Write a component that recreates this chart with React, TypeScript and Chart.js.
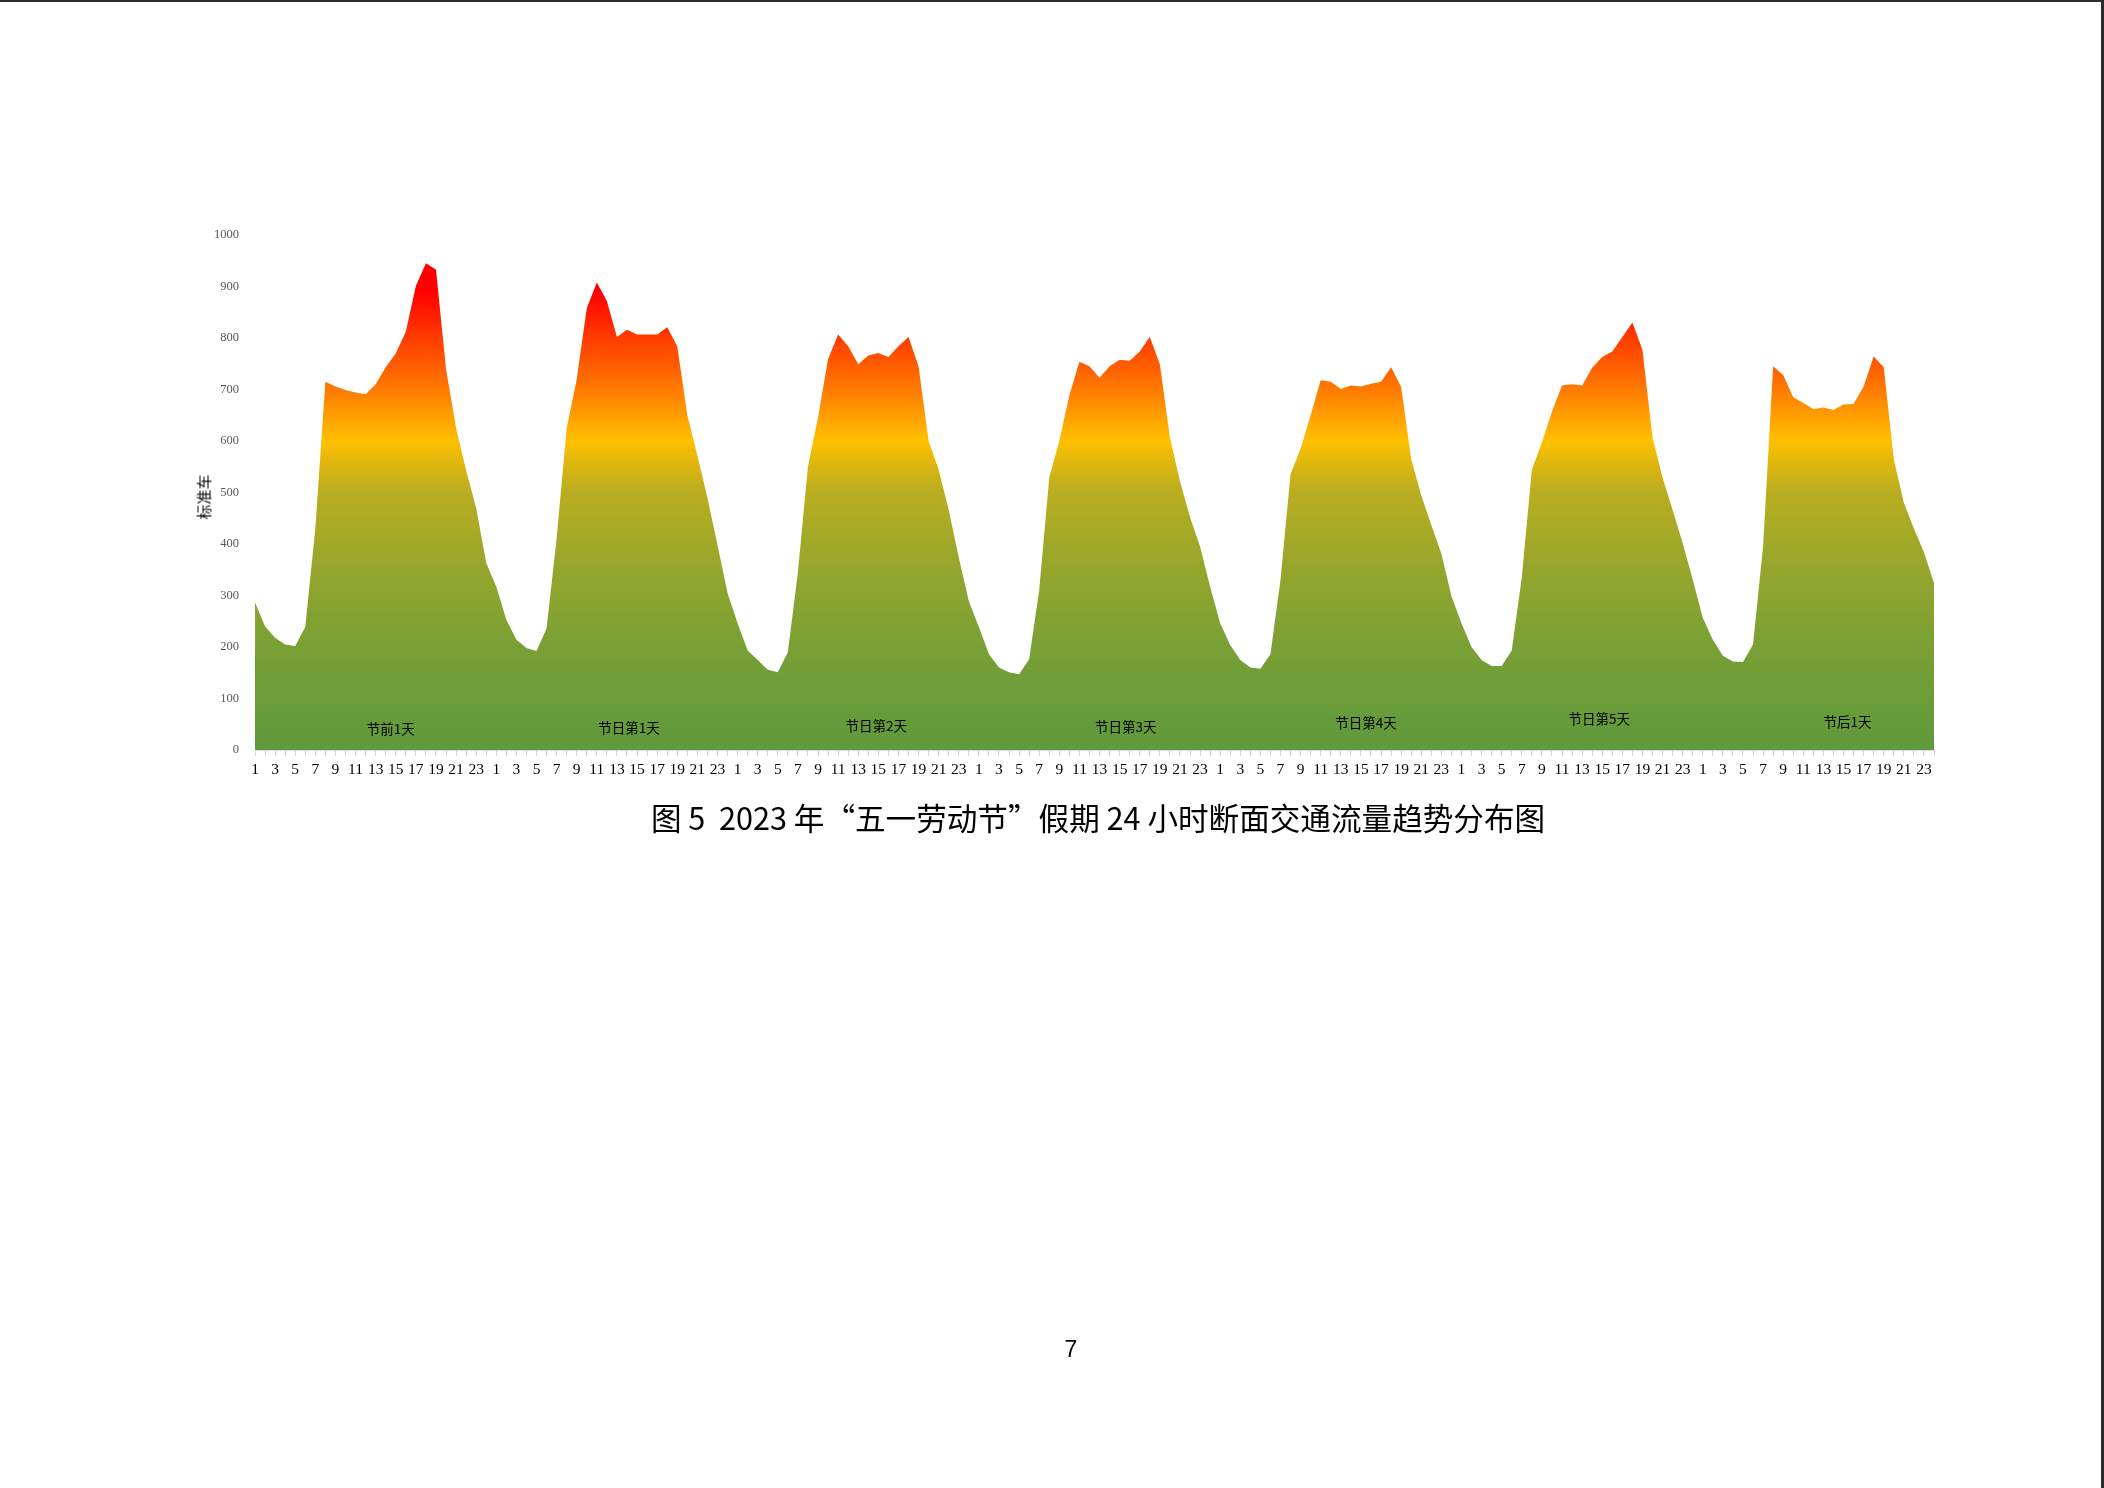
import React, { useEffect, useRef } from "react";
import { Chart, registerables } from "chart.js";

Chart.register(...registerables);

// ---- data ----
const HOURS = ["1","2","3","4","5","6","7","8","9","10","11","12","13","14","15","16","17","18","19","20","21","22","23","24"];
const DAY_NAMES = ["节前1天", "节日第1天", "节日第2天", "节日第3天", "节日第4天", "节日第5天", "节后1天"];

const DAY_PRE1 = [287, 240, 218, 205, 202, 239, 430, 715, 706, 699, 694, 691, 710, 743, 770, 812, 901, 945, 933, 740, 625, 543, 470, 363];
const DAY_HOL1 = [317, 253, 214, 198, 192, 236, 410, 625, 720, 858, 908, 872, 802, 816, 807, 807, 807, 821, 784, 650, 572, 490, 398, 305];
const DAY_HOL2 = [246, 193, 175, 156, 151, 190, 345, 551, 645, 759, 807, 784, 749, 766, 771, 763, 784, 802, 745, 600, 544, 466, 374, 289];
const DAY_HOL3 = [239, 186, 160, 151, 147, 176, 310, 529, 600, 689, 754, 745, 723, 745, 758, 756, 774, 802, 749, 607, 522, 452, 395, 317];
const DAY_HOL4 = [246, 204, 175, 160, 158, 186, 330, 536, 585, 650, 718, 715, 701, 708, 706, 711, 715, 743, 705, 565, 494, 437, 381, 299];
const DAY_HOL5 = [246, 200, 175, 163, 163, 193, 335, 544, 597, 657, 708, 710, 708, 742, 763, 774, 802, 830, 777, 607, 529, 466, 402, 331];
const DAY_POST1 = [257, 214, 183, 172, 171, 205, 395, 745, 728, 685, 674, 662, 665, 660, 671, 672, 706, 764, 743, 565, 480, 430, 384, 324];

const DAYS = [DAY_PRE1, DAY_HOL1, DAY_HOL2, DAY_HOL3, DAY_HOL4, DAY_HOL5, DAY_POST1];

// where each day name sits, in data coordinates (category index, value)
const DAY_LABEL_INDEX = [13.5, 37.2, 61.8, 86.6, 110.5, 133.7, 158.4];
const DAY_LABEL_VALUE = [41, 43, 46, 44, 52, 60, 54];

const Y_MIN = 0;
const Y_MAX = 1000;
const Y_STEP = 100;

const TITLE = "图 5  2023 年“五一劳动节”假期 24 小时断面交通流量趋势分布图";
const Y_TITLE = "标准车";
const PAGE_NO = "7";

// ---- styles ----
const GRADIENT_VALUES = [0, 200, 350, 500, 570, 600, 650, 700, 800, 890];
const GRADIENT_COLORS = ["#5f993c", "#79a035", "#95a62d", "#b9ad20", "#e8b90b", "#ffc000", "#ff9e00", "#ff7a00", "#ff3c00", "#ff0000"];

const dayLabelPlugin = {
  id: "dayLabels",
  afterDatasetsDraw(chart: any) {
    const { ctx, scales } = chart;
    const xs = scales.x;
    const ys = scales.y;
    ctx.save();
    ctx.fillStyle = "#000000";
    ctx.font = "13.5px 'Noto Sans CJK SC'";
    ctx.textAlign = "center";
    ctx.textBaseline = "middle";
    DAY_NAMES.forEach((name, i) => {
      ctx.fillText(name, xs.getPixelForValue(DAY_LABEL_INDEX[i]), ys.getPixelForValue(DAY_LABEL_VALUE[i]));
    });
    ctx.restore();
  },
};

export default function App() {
  const canvasRef = useRef<HTMLCanvasElement | null>(null);

  useEffect(() => {
    const canvas = canvasRef.current;
    if (!canvas) return;
    const labels: string[] = [];
    const values: number[] = [];
    DAYS.forEach((d) => {
      HOURS.forEach((h, i) => {
        labels.push(h);
        values.push(d[i]);
      });
    });

    const chart = new Chart(canvas, {
      type: "line",
      data: {
        labels,
        datasets: [
          {
            data: values,
            fill: "origin",
            borderWidth: 0,
            borderColor: "rgba(0,0,0,0)",
            pointRadius: 0,
            pointHoverRadius: 0,
            tension: 0,
            backgroundColor: (c: any) => {
              const ch = c.chart;
              const { chartArea, scales } = ch;
              if (!chartArea || !scales.y) return GRADIENT_COLORS[0];
              const y0 = scales.y.getPixelForValue(Y_MIN);
              const y1 = scales.y.getPixelForValue(Y_MAX);
              const g = ch.ctx.createLinearGradient(0, y0, 0, y1);
              GRADIENT_VALUES.forEach((v, i) => g.addColorStop((v - Y_MIN) / (Y_MAX - Y_MIN), GRADIENT_COLORS[i]));
              g.addColorStop(1, GRADIENT_COLORS[GRADIENT_COLORS.length - 1]);
              return g;
            },
          },
        ],
      },
      options: {
        animation: false,
        responsive: true,
        maintainAspectRatio: false,
        devicePixelRatio: 1,
        layout: { padding: { left: 0, top: 235, right: 170, bottom: 698 } },
        plugins: {
          legend: { display: false },
          tooltip: { enabled: false },
          title: { display: false },
        },
        scales: {
          x: {
            type: "category",
            offset: false,
            grid: {
              display: true,
              drawOnChartArea: false,
              drawTicks: true,
              tickLength: 6,
              color: "#d9d9d9",
            },
            border: { display: true, color: "#d9d9d9", width: 1 },
            ticks: {
              autoSkip: false,
              maxRotation: 0,
              minRotation: 0,
              padding: 5,
              color: "#000000",
              font: { family: "'Liberation Serif'", size: 15.5 },
              callback: (_v: any, i: number) => (i % 2 === 0 ? labels[i] : ""),
            },
            afterFit: (s: any) => {
              s.height = 40;
            },
          },
          y: {
            min: Y_MIN,
            max: Y_MAX,
            grid: { display: false, drawTicks: false },
            border: { display: false },
            ticks: {
              stepSize: Y_STEP,
              padding: 16,
              color: "#595959",
              font: { family: "'Liberation Serif'", size: 12.5 },
              callback: (v: any) => String(v),
            },
            afterFit: (s: any) => {
              s.width = 255;
            },
          },
        },
      },
      plugins: [dayLabelPlugin],
    });
    return () => chart.destroy();
  }, []);

  return (
    <div
      style={{
        position: "absolute",
        left: 0,
        top: 0,
        width: 2104,
        height: 1488,
        background: "#ffffff",
        overflow: "hidden",
      }}
    >
      <div style={{ position: "absolute", left: 0, top: 0, width: 2104, height: 1488 }}>
        <canvas ref={canvasRef} />
      </div>
      <div
        style={{
          position: "absolute",
          left: 203,
          top: 497,
          transform: "translate(-50%, -50%) rotate(-90deg)",
          fontFamily: "'Noto Sans CJK SC'",
          fontSize: 15,
          lineHeight: 1,
          color: "#000",
          whiteSpace: "nowrap",
        }}
      >
        {Y_TITLE}
      </div>
      <div
        style={{
          position: "absolute",
          left: 1098,
          top: 817,
          transform: "translate(-50%, -50%)",
          fontFamily: "'Noto Sans CJK SC'",
          fontSize: 30.6,
          lineHeight: 1,
          color: "#000",
          whiteSpace: "pre",
        }}
      >
        {TITLE}
      </div>
      <div
        style={{
          position: "absolute",
          left: 1071,
          top: 1349,
          transform: "translate(-50%, -50%)",
          fontFamily: "'Liberation Sans'",
          fontSize: 23,
          lineHeight: 1,
          color: "#000",
        }}
      >
        {PAGE_NO}
      </div>
      <div style={{ position: "absolute", left: 0, top: 0, width: 2104, height: 2, background: "#2b2b2b" }} />
      <div style={{ position: "absolute", left: 2101, top: 0, width: 3, height: 1488, background: "#2b2b2b" }} />
    </div>
  );
}
